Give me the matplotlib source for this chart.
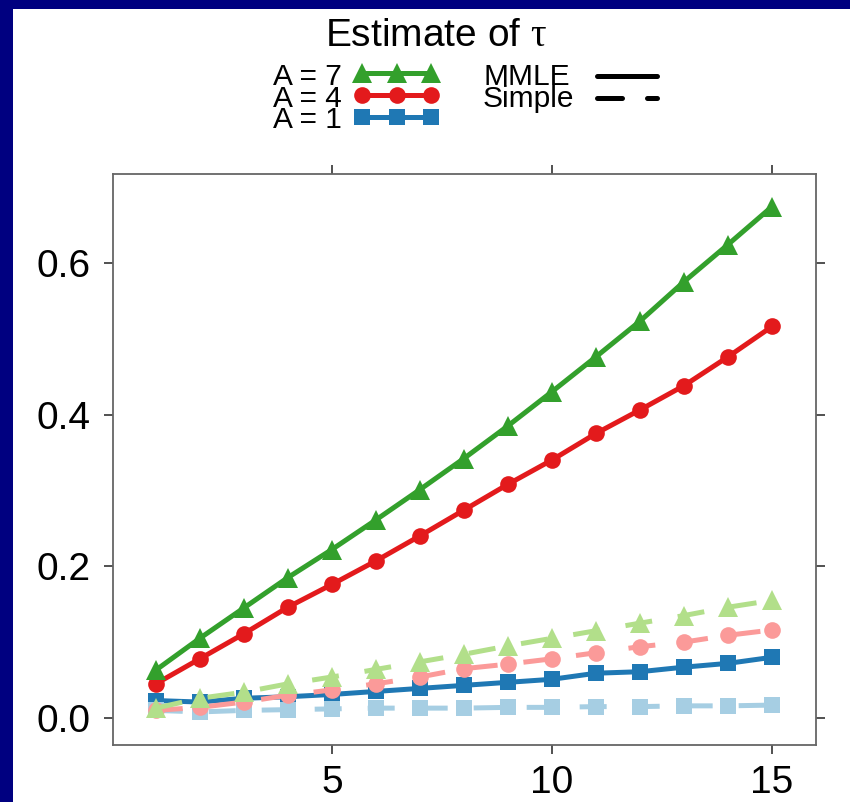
import matplotlib
matplotlib.use("Agg")
import matplotlib.pyplot as plt
from matplotlib.lines import Line2D
from matplotlib.patches import Rectangle

plt.rcParams['font.family'] = ['Liberation Sans', 'DejaVu Sans']
plt.rcParams['mathtext.fontset'] = 'custom'
plt.rcParams['mathtext.rm'] = 'Liberation Serif'
plt.rcParams['mathtext.it'] = 'Liberation Serif'

# ---- data ----
x_vals = list(range(1, 16))
mmle_a7 = [0.063, 0.105, 0.145, 0.185, 0.222, 0.261, 0.301, 0.342, 0.385, 0.430, 0.476, 0.523, 0.575, 0.624, 0.674]
mmle_a4 = [0.045, 0.078, 0.111, 0.146, 0.176, 0.207, 0.240, 0.274, 0.308, 0.340, 0.375, 0.406, 0.438, 0.476, 0.516]
mmle_a1 = [0.023, 0.021, 0.026, 0.028, 0.031, 0.035, 0.039, 0.043, 0.047, 0.051, 0.059, 0.061, 0.067, 0.072, 0.080]
simple_a7 = [0.013, 0.026, 0.034, 0.045, 0.054, 0.064, 0.074, 0.084, 0.095, 0.105, 0.115, 0.125, 0.135, 0.146, 0.155]
simple_a4 = [0.010, 0.014, 0.021, 0.030, 0.037, 0.045, 0.054, 0.065, 0.071, 0.078, 0.086, 0.094, 0.100, 0.109, 0.116]
simple_a1 = [0.010, 0.008, 0.010, 0.011, 0.012, 0.013, 0.013, 0.013, 0.014, 0.014, 0.015, 0.015, 0.016, 0.016, 0.017]

group_labels = ["A = 7", "A = 4", "A = 1"]
method_labels = ["MMLE", "Simple"]
x_ticks = [5, 10, 15]
y_ticks = [0.0, 0.2, 0.4, 0.6]
y_ticklabels = ["0.0", "0.2", "0.4", "0.6"]
title = r"Estimate of $\mathrm{\tau}$"

dark = {"A = 7": "#33A02C", "A = 4": "#E31A1C", "A = 1": "#1F78B4"}
light = {"A = 7": "#B2DF8A", "A = 4": "#FB9A99", "A = 1": "#A6CEE3"}
markers = {"A = 7": "^", "A = 4": "o", "A = 1": "s"}
msize = {"A = 7": 14.5, "A = 4": 12, "A = 1": 11.5}

W, H = 850, 802
fig = plt.figure(figsize=(W / 100, H / 100), dpi=100)
fig.patch.set_facecolor("white")

def fx(px):
    return px / W

def fy(py):
    return 1 - py / H

# navy border (left and top)
fig.patches.append(Rectangle((0, 0), fx(13), 1, transform=fig.transFigure,
                             facecolor="#000080", edgecolor="none", zorder=0))
fig.patches.append(Rectangle((0, fy(9)), 1, 9 / H, transform=fig.transFigure,
                             facecolor="#000080", edgecolor="none", zorder=0))

left, right, top, bottom = 113.5, 816, 174, 745
ax = fig.add_axes([fx(left), fy(bottom), fx(right - left), (bottom - top) / H])

lw = 3.6
mm = {"A = 7": mmle_a7, "A = 4": mmle_a4, "A = 1": mmle_a1}
sm = {"A = 7": simple_a7, "A = 4": simple_a4, "A = 1": simple_a1}

for g in ["A = 1", "A = 4", "A = 7"]:
    ax.plot(x_vals, mm[g], color=dark[g], lw=lw, marker=markers[g],
            markersize=msize[g], markeredgewidth=0, zorder=3)
for g in ["A = 1", "A = 4", "A = 7"]:
    ax.plot(x_vals, sm[g], color=light[g], lw=lw, ls=(0, (5.4, 5.2)), marker=markers[g],
            markersize=msize[g], markeredgewidth=0, zorder=4)

ax.set_xlim(0.04, 16.0)
ax.set_ylim(-0.0356, 0.717)
ax.set_xticks(x_ticks)
ax.set_xticklabels([str(t) for t in x_ticks])
ax.set_yticks(y_ticks)
ax.set_yticklabels(y_ticklabels)
ax.tick_params(axis="both", direction="out", length=6.5, width=1.1, color="#222222",
               labelsize=28, top=True, right=True, labeltop=False, labelright=False)
ax.tick_params(axis="y", pad=10)
ax.tick_params(axis="x", pad=8)
for s in ax.spines.values():
    s.set_color("#666666")
    s.set_linewidth(1.3)

# ---- title and key ----
fig.text(fx(436), fy(46), title, ha="center", va="baseline", fontsize=28)

key_rows = [(85, 73), (106.7, 95), (128, 117)]
for g, (base, cy) in zip(group_labels, key_rows):
    fig.text(fx(342), fy(base), g, ha="right", va="baseline", fontsize=21.5)
    fig.add_artist(Line2D([fx(362), fx(397), fx(431)], [fy(cy)] * 3, transform=fig.transFigure,
                          color=dark[g], lw=lw, marker=markers[g], markersize=msize[g],
                          markeredgewidth=0))

fig.text(fx(483), fy(85), method_labels[0], ha="left", va="baseline", fontsize=21.5)
fig.text(fx(483), fy(106.7), method_labels[1], ha="left", va="baseline", fontsize=21.5)
fig.add_artist(Line2D([fx(597), fx(657)], [fy(76)] * 2, transform=fig.transFigure,
                      color="black", lw=lw, solid_capstyle="round"))
fig.add_artist(Line2D([fx(597), fx(657)], [fy(98)] * 2, transform=fig.transFigure,
                      color="black", lw=lw, ls=(0, (5.0, 5.0)), dash_capstyle="round"))

fig.savefig("out.png", dpi=100, facecolor="white")
